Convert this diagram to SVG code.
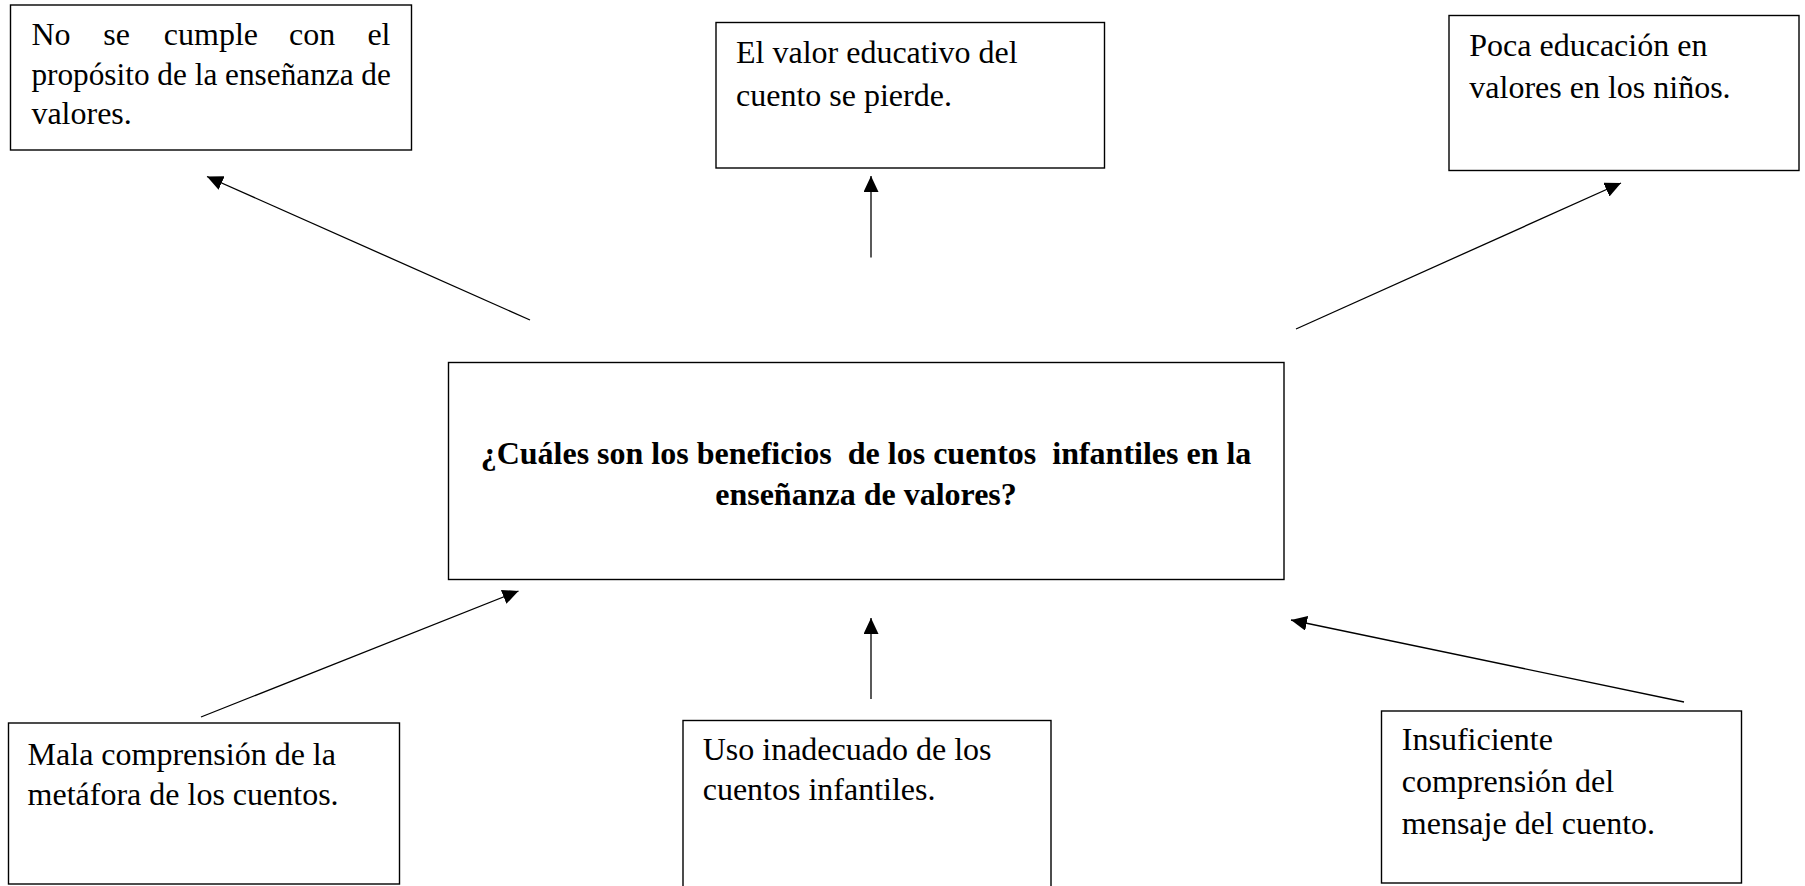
<svg xmlns="http://www.w3.org/2000/svg" width="1805" height="886" viewBox="0 0 1805 886">
<style>
.box{fill:#fff;stroke:#000;stroke-width:1.4}
.t{font-family:"Liberation Serif","Times New Roman",serif;font-size:32px;fill:#000}
.b{font-weight:bold;text-anchor:middle;white-space:pre}
.c{stroke:#000;stroke-width:1.3;fill:none;marker-end:url(#ah)}
</style>
<defs>
<marker id="ah" markerUnits="userSpaceOnUse" markerWidth="17" markerHeight="16" refX="16" refY="7.5" orient="auto">
<path d="M0,0 L16,7.5 L0,15 z" fill="#000"/>
</marker>
</defs>
<rect width="1805" height="886" fill="#fff"/>
<g id="connectors">
<line class="c" x1="530" y1="320" x2="207" y2="176.5"/>
<line class="c" x1="871" y1="257.5" x2="871" y2="176"/>
<line class="c" x1="1296" y1="329" x2="1621" y2="183"/>
<line class="c" x1="201" y1="717" x2="518.5" y2="591"/>
<line class="c" x1="871" y1="699" x2="871" y2="618"/>
<line class="c" x1="1684" y1="702" x2="1291" y2="620"/>
</g>
<g id="n-top-left">
<rect class="box" x="10.5" y="5" width="401" height="145"/>
<text class="t" y="45"><tspan x="31.4">No</tspan><tspan x="103.3">se</tspan><tspan x="163.8">cumple</tspan><tspan x="289">con</tspan><tspan x="367.4">el</tspan></text>
<text class="t" x="31.4" y="84.5" textLength="359.5" lengthAdjust="spacingAndGlyphs">propósito de la enseñanza de</text>
<text class="t" x="31.4" y="124">valores.</text>
</g>
<g id="n-top-mid">
<rect class="box" x="716" y="22.5" width="388.5" height="145.5"/>
<text class="t" x="736" y="63">El valor educativo del</text>
<text class="t" x="736" y="105.5">cuento se pierde.</text>
</g>
<g id="n-top-right">
<rect class="box" x="1449" y="15.5" width="350" height="155"/>
<text class="t" x="1469.3" y="55.5">Poca educación en</text>
<text class="t" x="1469.3" y="98">valores en los niños.</text>
</g>
<g id="n-center">
<rect class="box" x="448.5" y="362.5" width="835.5" height="217"/>
<text class="t b" x="866" y="464">¿Cuáles son los beneficios  de los cuentos  infantiles en la</text>
<text class="t b" x="866" y="505">enseñanza de valores?</text>
</g>
<g id="n-bottom-left">
<rect class="box" x="8.5" y="723" width="391" height="161"/>
<text class="t" x="27.6" y="765">Mala comprensión de la</text>
<text class="t" x="27.6" y="805">metáfora de los cuentos.</text>
</g>
<g id="n-bottom-mid">
<rect class="box" x="683" y="720.5" width="368" height="200"/>
<text class="t" x="702.7" y="760">Uso inadecuado de los</text>
<text class="t" x="702.7" y="800">cuentos infantiles.</text>
</g>
<g id="n-bottom-right">
<rect class="box" x="1381.5" y="711" width="360" height="172"/>
<text class="t" x="1401.8" y="750">Insuficiente</text>
<text class="t" x="1401.8" y="792">comprensión del</text>
<text class="t" x="1401.8" y="834">mensaje del cuento.</text>
</g>
</svg>
